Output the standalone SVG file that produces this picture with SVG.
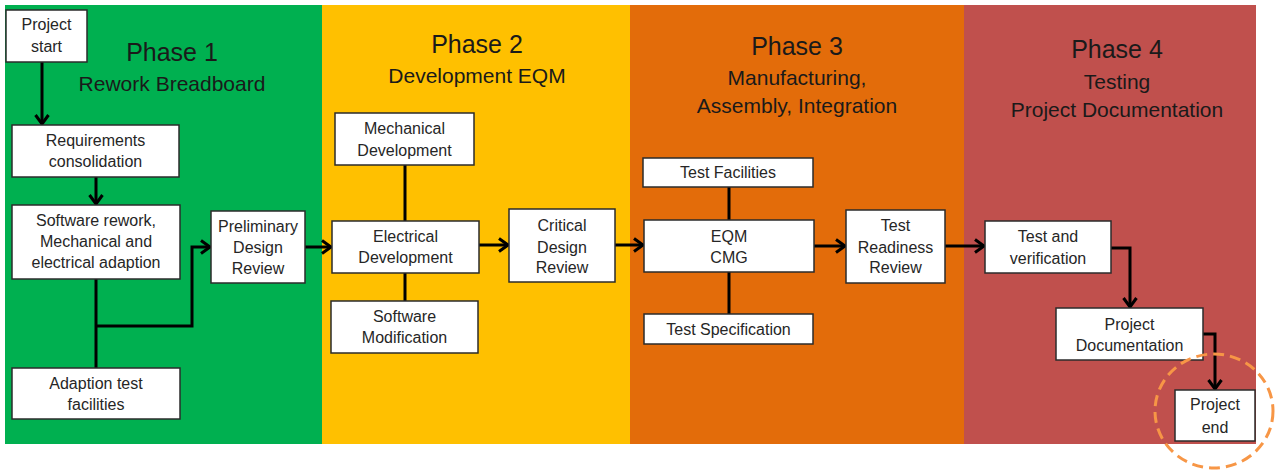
<svg xmlns="http://www.w3.org/2000/svg" width="1275" height="470" viewBox="0 0 1275 470">
  <defs>
    <style>
      .box { fill: #ffffff; stroke: #2b2b2b; stroke-width: 1.5; }
      .lbl { font-family: "Liberation Sans", Arial, sans-serif; font-size: 16px; fill: #262626; text-anchor: middle; }
      .ph { font-family: "Liberation Sans", Arial, sans-serif; font-size: 25px; fill: #1a1a1a; text-anchor: middle; }
      .sub { font-family: "Liberation Sans", Arial, sans-serif; font-size: 21px; fill: #1a1a1a; text-anchor: middle; }
      .wire { fill: none; stroke: #000000; stroke-width: 3; }
      .arr { fill: none; stroke: #000000; stroke-width: 3; marker-end: url(#head); }
    </style>
    <marker id="head" markerUnits="userSpaceOnUse" markerWidth="14" markerHeight="16" refX="11" refY="8" orient="auto">
      <path d="M2,1.5 L11,8 L2,14.5" fill="none" stroke="#000000" stroke-width="3"/>
    </marker>
  </defs>

  <!-- phase backgrounds -->
  <g id="phases">
    <rect x="5" y="5" width="317" height="439" fill="#00B050"/>
    <rect x="322" y="5" width="308" height="439" fill="#FFC000"/>
    <rect x="630" y="5" width="334" height="439" fill="#E36C0A"/>
    <rect x="964" y="5" width="292" height="439" fill="#C0504D"/>
  </g>

  <!-- phase titles -->
  <g id="titles">
    <text class="ph" x="172" y="61">Phase 1</text>
    <text class="sub" x="172" y="91">Rework Breadboard</text>
    <text class="ph" x="477" y="53">Phase 2</text>
    <text class="sub" x="477" y="83">Development EQM</text>
    <text class="ph" x="797" y="55">Phase 3</text>
    <text class="sub" x="797" y="85">Manufacturing,</text>
    <text class="sub" x="797" y="113">Assembly, Integration</text>
    <text class="ph" x="1117" y="58">Phase 4</text>
    <text class="sub" x="1117" y="89">Testing</text>
    <text class="sub" x="1117" y="117">Project Documentation</text>
  </g>

  <!-- connectors -->
  <g id="connectors">
    <path class="arr" d="M42,62 L42,124"/>
    <path class="arr" d="M96,177 L96,204"/>
    <path class="wire" d="M96,279 L96,368"/>
    <path class="arr" d="M96,326 L192,326 L192,247 L210,247"/>
    <path class="arr" d="M305,247 L331,247"/>
    <path class="wire" d="M405,165 L405,221"/>
    <path class="wire" d="M405,273 L405,301"/>
    <path class="arr" d="M479,245 L508,245"/>
    <path class="arr" d="M615,245 L643,245"/>
    <path class="wire" d="M729,187 L729,220"/>
    <path class="wire" d="M729,272 L729,314"/>
    <path class="arr" d="M814,246 L845,246"/>
    <path class="arr" d="M945,246 L984,246"/>
    <path class="arr" d="M1111,248 L1130,248 L1130,307"/>
    <path class="arr" d="M1203,334 L1215,334 L1215,389"/>
  </g>

  <!-- nodes -->
  <g id="project-start">
    <rect class="box" x="6" y="10" width="81" height="52"/>
    <text class="lbl" x="46.5" y="30">Project</text>
    <text class="lbl" x="46.5" y="52">start</text>
  </g>
  <g id="requirements">
    <rect class="box" x="12" y="125" width="167" height="52"/>
    <text class="lbl" x="95.5" y="146">Requirements</text>
    <text class="lbl" x="95.5" y="167">consolidation</text>
  </g>
  <g id="software-rework">
    <rect class="box" x="12" y="205" width="168" height="74"/>
    <text class="lbl" x="96" y="226">Software rework,</text>
    <text class="lbl" x="96" y="247">Mechanical and</text>
    <text class="lbl" x="96" y="268">electrical adaption</text>
  </g>
  <g id="adaption-test">
    <rect class="box" x="12" y="368" width="168" height="51"/>
    <text class="lbl" x="96" y="389">Adaption test</text>
    <text class="lbl" x="96" y="410">facilities</text>
  </g>
  <g id="pdr">
    <rect class="box" x="211" y="211" width="94" height="72"/>
    <text class="lbl" x="258" y="232">Preliminary</text>
    <text class="lbl" x="258" y="253">Design</text>
    <text class="lbl" x="258" y="274">Review</text>
  </g>
  <g id="mechanical-dev">
    <rect class="box" x="335" y="113" width="139" height="52"/>
    <text class="lbl" x="404.5" y="134">Mechanical</text>
    <text class="lbl" x="404.5" y="156">Development</text>
  </g>
  <g id="electrical-dev">
    <rect class="box" x="332" y="221" width="147" height="52"/>
    <text class="lbl" x="405.5" y="242">Electrical</text>
    <text class="lbl" x="405.5" y="263">Development</text>
  </g>
  <g id="software-mod">
    <rect class="box" x="331" y="301" width="147" height="52"/>
    <text class="lbl" x="404.5" y="322">Software</text>
    <text class="lbl" x="404.5" y="343">Modification</text>
  </g>
  <g id="cdr">
    <rect class="box" x="509" y="209" width="106" height="73"/>
    <text class="lbl" x="562" y="231">Critical</text>
    <text class="lbl" x="562" y="253">Design</text>
    <text class="lbl" x="562" y="273">Review</text>
  </g>
  <g id="test-facilities">
    <rect class="box" x="643" y="158" width="170" height="29"/>
    <text class="lbl" x="728" y="178">Test Facilities</text>
  </g>
  <g id="eqm-cmg">
    <rect class="box" x="644" y="220" width="170" height="52"/>
    <text class="lbl" x="729" y="242">EQM</text>
    <text class="lbl" x="729" y="263">CMG</text>
  </g>
  <g id="test-spec">
    <rect class="box" x="644" y="314" width="169" height="30"/>
    <text class="lbl" x="728.5" y="335">Test Specification</text>
  </g>
  <g id="trr">
    <rect class="box" x="846" y="210" width="99" height="73"/>
    <text class="lbl" x="895.5" y="231">Test</text>
    <text class="lbl" x="895.5" y="253">Readiness</text>
    <text class="lbl" x="895.5" y="273">Review</text>
  </g>
  <g id="test-verification">
    <rect class="box" x="985" y="221" width="126" height="52"/>
    <text class="lbl" x="1048" y="242">Test and</text>
    <text class="lbl" x="1048" y="264">verification</text>
  </g>
  <g id="project-doc">
    <rect class="box" x="1056" y="308" width="147" height="52"/>
    <text class="lbl" x="1129.5" y="330">Project</text>
    <text class="lbl" x="1129.5" y="351">Documentation</text>
  </g>
  <g id="project-end">
    <rect class="box" x="1175" y="390" width="80" height="51"/>
    <text class="lbl" x="1215" y="410">Project</text>
    <text class="lbl" x="1215" y="433">end</text>
  </g>

  <!-- highlight ring around the end node -->
  <ellipse id="end-highlight" cx="1214" cy="411" rx="59" ry="57" fill="none" stroke="#F79646" stroke-width="3" stroke-dasharray="11 6"/>
</svg>
